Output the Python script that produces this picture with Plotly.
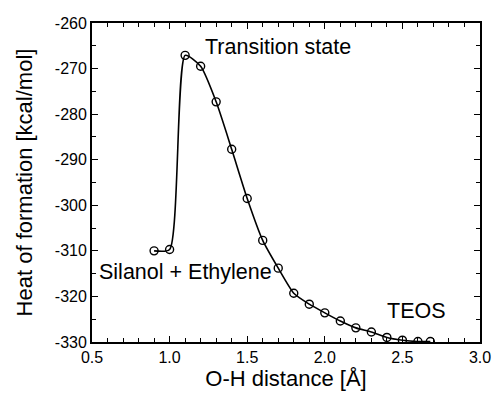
import plotly.graph_objects as go

oh_distance = [0.9, 1.0, 1.1, 1.2, 1.3, 1.4, 1.5, 1.6, 1.7, 1.8, 1.9, 2.0,
               2.1, 2.2, 2.3, 2.4, 2.5, 2.6, 2.68]
heat_of_formation = [-310.0, -309.7, -267.1, -269.5, -277.3, -287.7, -298.5,
                     -307.7, -313.8, -319.3, -321.7, -323.6, -325.4, -326.9,
                     -327.8, -329.0, -329.6, -329.9, -329.9]

x_ticks = [0.5, 1.0, 1.5, 2.0, 2.5, 3.0]
x_ticklabels = ["0.5", "1.0", "1.5", "2.0", "2.5", "3.0"]
y_ticks = [-330, -320, -310, -300, -290, -280, -270, -260]
y_ticklabels = ["-330", "-320", "-310", "-300", "-290", "-280", "-270", "-260"]

labels = ["Transition state", "Silanol + Ethylene", "TEOS"]
label_x = [1.70, 1.10, 2.59]
label_y = [-265.3, -314.6, -323.2]

FONT = "Liberation Sans, Arial, sans-serif"

fig = go.Figure()
fig.add_trace(go.Scatter(
    x=oh_distance, y=heat_of_formation, mode="lines+markers",
    line=dict(color="black", width=1.6, shape="spline", smoothing=0.6),
    marker=dict(symbol="circle-open", size=8, color="black", line=dict(width=1.4)),
    showlegend=False,
))

for t, x, y in zip(labels, label_x, label_y):
    fig.add_annotation(x=x, y=y, text=t, showarrow=False, xanchor="center",
                       yanchor="middle", font=dict(size=21.5, color="black", family=FONT))

axis_common = dict(
    showgrid=False, zeroline=False, showline=True, linecolor="black", linewidth=1.8,
    mirror="ticks", ticks="inside", ticklen=6, tickwidth=1.3, tickcolor="black",
    tickfont=dict(size=16, color="black", family=FONT), automargin=False,
)

fig.update_xaxes(range=[0.5, 3.0], tickvals=x_ticks, ticktext=x_ticklabels,
                 minor=dict(dtick=0.1, ticks="inside", ticklen=4, tickcolor="black", tickwidth=1.3),
                 title=dict(text="O-H distance [Å]", font=dict(size=22, color="black", family=FONT), standoff=5),
                 **axis_common)
fig.update_yaxes(range=[-330, -260], tickvals=y_ticks, ticktext=y_ticklabels,
                 minor=dict(dtick=5, ticks="inside", ticklen=4, tickcolor="black", tickwidth=1.3),
                 title=dict(text="Heat of formation [kcal/mol]", font=dict(size=22, color="black", family=FONT), standoff=16),
                 **axis_common)

fig.update_layout(
    width=492, height=393,
    margin=dict(l=92, r=12, t=23, b=51),
    plot_bgcolor="white", paper_bgcolor="white",
    font=dict(family=FONT, color="black"),
)

fig.write_html("out.html")
